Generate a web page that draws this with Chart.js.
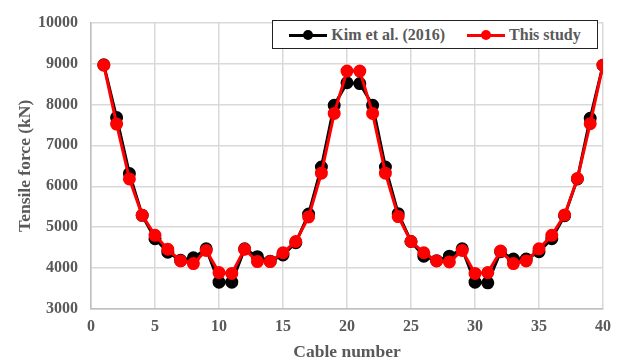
<!DOCTYPE html>
<html>
<head>
<meta charset="utf-8">
<script src="https://cdn.jsdelivr.net/npm/chart.js@4/dist/chart.umd.min.js"></script>
<style>
  html, body { margin: 0; padding: 0; background: #fff; }
  #wrap { position: relative; width: 619px; height: 363px; }
  #legend {
    position: absolute; left: 272px; top: 20px; width: 326px; height: 29px;
    border: 1.5px solid #222; background: #fff; box-sizing: border-box;
    display: flex; align-items: center; justify-content: center; gap: 22px;
    font-family: "Liberation Serif", "Times New Roman", serif; font-weight: bold;
    font-size: 16px; color: #595959;
  }
  .item { display: flex; align-items: center; gap: 4px; }
  .sample { position: relative; width: 38px; height: 12px; }
  .sample .ln { position: absolute; left: 0; right: 0; top: 5px; height: 3px; }
  .sample .dot { position: absolute; left: 14px; top: 1px; width: 10px; height: 10px; border-radius: 50%; }
</style>
</head>
<body>
<div id="wrap">
  <canvas id="c" width="619" height="363"></canvas>
  <div id="legend"></div>
</div>
<script>
const cables = [1,2,3,4,5,6,7,8,9,10,11,12,13,14,15,16,17,18,19,20,21,22,23,24,25,26,27,28,29,30,31,32,33,34,35,36,37,38,39,40];
const kim = [8970,7680,6310,5290,4720,4390,4190,4250,4470,3655,3655,4470,4280,4170,4320,4620,5320,6470,7980,8530,8510,7980,6470,5330,4650,4290,4180,4290,4470,3655,3640,4400,4220,4220,4400,4720,5280,6180,7660,8960];
const thisStudy = [8960,7520,6180,5290,4800,4460,4175,4110,4430,3890,3870,4460,4160,4160,4375,4650,5250,6320,7780,8815,8815,7780,6320,5260,4650,4375,4175,4150,4430,3870,3890,4415,4110,4175,4470,4800,5300,6190,7530,8960];
const xTicks = [0,5,10,15,20,25,30,35,40];
const yTicks = [3000,4000,5000,6000,7000,8000,9000,10000];

const seriesList = [
  { label: 'Kim et al. (2016)', values: kim, color: '#000000', order: 2 },
  { label: 'This study', values: thisStudy, color: '#ff0000', order: 1 }
];

const tickFont = { family: '"Liberation Serif", "Times New Roman", serif', size: 16, weight: 'bold' };
const titleFont = { family: '"Liberation Serif", "Times New Roman", serif', size: 17.5, weight: 'bold' };
const padLeft = 15;

const chart = new Chart(document.getElementById('c'), {
  type: 'line',
  data: {
    datasets: seriesList.map(s => ({
      label: s.label,
      data: cables.map((c, i) => ({ x: c, y: s.values[i] })),
      borderColor: s.color,
      backgroundColor: s.color,
      pointBackgroundColor: s.color,
      pointBorderColor: s.color,
      borderWidth: 3,
      pointRadius: 5,
      tension: 0,
      order: s.order
    }))
  },
  options: {
    responsive: false,
    animation: false,
    layout: { padding: { top: 17, right: 14, left: padLeft, bottom: 0 } },
    plugins: { legend: { display: false }, tooltip: { enabled: false } },
    scales: {
      x: {
        type: 'linear', min: 0, max: 40,
        afterBuildTicks: s => { s.ticks = xTicks.map(v => ({ value: v })); },
        afterFit: s => { s.height = 54; },
        ticks: { color: '#595959', font: tickFont, padding: 8, maxRotation: 0, callback: v => String(v) },
        grid: { color: '#d9d9d9', lineWidth: 1.5, drawTicks: false },
        border: { color: '#bfbfbf', width: 1.5 },
        title: { display: true, text: 'Cable number', color: '#595959', font: titleFont, padding: { top: 3, bottom: 0 } }
      },
      y: {
        min: 3000, max: 10000,
        afterBuildTicks: s => { s.ticks = yTicks.map(v => ({ value: v })); },
        afterFit: s => { s.width = 91 - padLeft; },
        ticks: { color: '#595959', font: tickFont, padding: 13, callback: v => String(v) },
        grid: { color: '#d9d9d9', lineWidth: 1.5, drawTicks: false },
        border: { color: '#bfbfbf', width: 1.5 },
        title: { display: true, text: 'Tensile force (kN)', color: '#595959', font: titleFont, padding: { top: 0, bottom: 4 } }
      }
    }
  }
});

const legend = document.getElementById('legend');
seriesList.forEach(s => {
  const it = document.createElement('div');
  it.className = 'item';
  it.innerHTML = '<div class="sample"><div class="ln" style="background:' + s.color + '"></div><div class="dot" style="background:' + s.color + '"></div></div><span>' + s.label + '</span>';
  legend.appendChild(it);
});
</script>
</body>
</html>
